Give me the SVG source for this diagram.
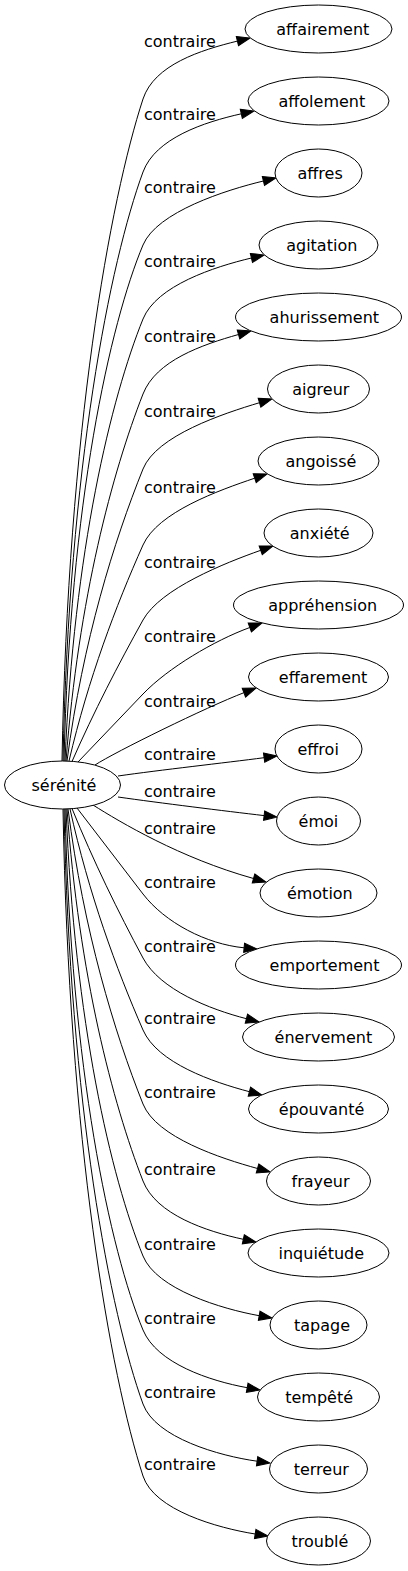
<svg xmlns="http://www.w3.org/2000/svg" width="408" height="1571" viewBox="0 0 408 1571">
<style>
text{font-family:"DejaVu Sans","Liberation Sans",sans-serif;font-size:16px;fill:#000}
.node ellipse{fill:#fff;stroke:#000;stroke-width:1}
.edge path{fill:none;stroke:#000;stroke-width:1;marker-end:url(#ah)}
</style>
<defs>
<marker id="ah" markerUnits="userSpaceOnUse" markerWidth="16" markerHeight="12" refX="1" refY="6" orient="auto" overflow="visible"><path d="M1,1.33 L14,6 L1,10.67 Z" fill="#000" stroke="#000" stroke-width="1"/></marker>
</defs>
<rect width="408" height="1571" fill="#fff"/>
<g id="edges">
<g class="edge" id="e1"><path d="M62,761 C68,430 110,200.3 143,99 C154.2,64.8 200.5,50.1 237.4,41.1"/><text x="144" y="47">contraire</text></g>
<g class="edge" id="e2"><path d="M63,761 C69,466.5 110,262.1 143,172 C155.4,138.2 204.2,122.1 241.3,113.8"/><text x="144" y="120">contraire</text></g>
<g class="edge" id="e3"><path d="M64,761 C70,503 110,323.9 143,245 C156.9,211.8 226.4,189.9 263.4,181"/><text x="144" y="193">contraire</text></g>
<g class="edge" id="e4"><path d="M65,761 C73.9,550.7 111.1,398.1 143,319 C156.5,285.6 214.4,266.8 251.4,258"/><text x="144" y="267">contraire</text></g>
<g class="edge" id="e5"><path d="M66,761 C78.6,597.9 112.4,472.2 143,394 C156.1,360.5 202,344.8 238.5,334.5"/><text x="144" y="342">contraire</text></g>
<g class="edge" id="e6"><path d="M67,761 C83,640.3 114,541.1 143,469 C156.4,435.6 223.1,413.6 259.5,402.7"/><text x="144" y="417">contraire</text></g>
<g class="edge" id="e7"><path d="M69,761 C88.3,678.6 115.9,605.7 143,545 C157.7,512.1 218.7,490.4 254.7,478.2"/><text x="144" y="493">contraire</text></g>
<g class="edge" id="e8"><path d="M72,761.5 C93.8,711.8 118.3,664.5 143,620 C160.5,588.5 224.9,563 260.7,550.3"/><text x="144" y="568">contraire</text></g>
<g class="edge" id="e9"><path d="M78,762 C99.7,739.3 121.3,716.7 143,694 C167.9,668 214.1,640.6 249.8,627.5"/><text x="144" y="642">contraire</text></g>
<g class="edge" id="e10"><path d="M95,765 C115,752 206.6,707 243.9,692.7"/><text x="144" y="707">contraire</text></g>
<g class="edge" id="e11"><path d="M118,776 C160,770 225,762.8 264.1,757.7"/><text x="144" y="760">contraire</text></g>
<g class="edge" id="e12"><path d="M118,797 C160,803 225,811 264.1,815.6"/><text x="144" y="797">contraire</text></g>
<g class="edge" id="e13"><path d="M93,805 C120,822 180,858 253.5,878.5"/><text x="144" y="834">contraire</text></g>
<g class="edge" id="e14"><path d="M77,808 C99,836.7 121,865.3 143,894 C164.9,922.5 206.3,944.2 244.1,947.8"/><text x="144" y="888">contraire</text></g>
<g class="edge" id="e15"><path d="M72,808.5 C93.5,861.4 118.1,911.6 143,958 C160,989.7 209.6,1009.2 246.4,1018.7"/><text x="144" y="952">contraire</text></g>
<g class="edge" id="e16"><path d="M70,809 C88.8,893.9 116.1,968.4 143,1030 C157.4,1063 212.7,1082 249.4,1091.7"/><text x="144" y="1024">contraire</text></g>
<g class="edge" id="e17"><path d="M68,809 C83.8,931.3 114.1,1031.6 143,1104 C156.4,1137.4 220.9,1158.4 257.5,1168.5"/><text x="144" y="1098">contraire</text></g>
<g class="edge" id="e18"><path d="M67,809 C79.1,975.2 112.5,1102.6 143,1181 C156.1,1214.6 206.2,1231.3 243.3,1239.3"/><text x="144" y="1175">contraire</text></g>
<g class="edge" id="e19"><path d="M66,809 C74.7,1022.6 110.9,1176.9 143,1256 C156.5,1289.3 221.8,1309 259.2,1315.7"/><text x="144" y="1250">contraire</text></g>
<g class="edge" id="e20"><path d="M65,809 C71,1069.5 110,1250.3 143,1330 C156.8,1363.3 209.8,1380.9 247.2,1387.7"/><text x="144" y="1324">contraire</text></g>
<g class="edge" id="e21"><path d="M64,809 C70,1106.5 110,1313 143,1404 C155.3,1437.8 219.5,1456 257.1,1461.2"/><text x="144" y="1398">contraire</text></g>
<g class="edge" id="e22"><path d="M63,809 C69,1142.5 110,1374 143,1476 C154.1,1510.2 217.6,1528 255.2,1534"/><text x="144" y="1470">contraire</text></g>
</g>
<g class="node" id="n0"><ellipse cx="62.5" cy="785" rx="58" ry="24"/><text x="31.5" y="790.6">sérénité</text></g>
<g class="node" id="n1"><ellipse cx="318.5" cy="29" rx="73.5" ry="24"/><text x="276.3" y="34.6">affairement</text></g>
<g class="node" id="n2"><ellipse cx="318.5" cy="101" rx="70.5" ry="24"/><text x="278.5" y="106.6">affolement</text></g>
<g class="node" id="n3"><ellipse cx="318.5" cy="173" rx="43.5" ry="24"/><text x="297.5" y="178.6">affres</text></g>
<g class="node" id="n4"><ellipse cx="318.5" cy="245" rx="59.5" ry="24"/><text x="286.2" y="250.6">agitation</text></g>
<g class="node" id="n5"><ellipse cx="318.5" cy="317" rx="83" ry="24"/><text x="269.6" y="322.6">ahurissement</text></g>
<g class="node" id="n6"><ellipse cx="318.5" cy="389" rx="51" ry="24"/><text x="292.2" y="394.6">aigreur</text></g>
<g class="node" id="n7"><ellipse cx="318.5" cy="461" rx="60.5" ry="24"/><text x="285.5" y="466.6">angoissé</text></g>
<g class="node" id="n8"><ellipse cx="318.5" cy="533" rx="54.5" ry="24"/><text x="289.8" y="538.6">anxiété</text></g>
<g class="node" id="n9"><ellipse cx="318.5" cy="605" rx="85" ry="24"/><text x="268.2" y="610.6">appréhension</text></g>
<g class="node" id="n10"><ellipse cx="318.5" cy="677" rx="70" ry="24"/><text x="278.8" y="682.6">effarement</text></g>
<g class="node" id="n11"><ellipse cx="318.5" cy="749" rx="43.5" ry="24"/><text x="297.5" y="754.6">effroi</text></g>
<g class="node" id="n12"><ellipse cx="318.5" cy="821" rx="42" ry="24"/><text x="298.6" y="826.6">émoi</text></g>
<g class="node" id="n13"><ellipse cx="318.5" cy="893" rx="58.5" ry="24"/><text x="286.9" y="898.6">émotion</text></g>
<g class="node" id="n14"><ellipse cx="318.5" cy="965" rx="83" ry="24"/><text x="269.6" y="970.6">emportement</text></g>
<g class="node" id="n15"><ellipse cx="318.5" cy="1037" rx="76" ry="24"/><text x="274.6" y="1042.6">énervement</text></g>
<g class="node" id="n16"><ellipse cx="318.5" cy="1109" rx="70" ry="24"/><text x="278.8" y="1114.6">épouvanté</text></g>
<g class="node" id="n17"><ellipse cx="318.5" cy="1181" rx="52" ry="24"/><text x="291.5" y="1186.6">frayeur</text></g>
<g class="node" id="n18"><ellipse cx="318.5" cy="1253" rx="70.5" ry="24"/><text x="278.5" y="1258.6">inquiétude</text></g>
<g class="node" id="n19"><ellipse cx="318.5" cy="1325" rx="48.5" ry="24"/><text x="294" y="1330.6">tapage</text></g>
<g class="node" id="n20"><ellipse cx="318.5" cy="1397" rx="61" ry="24"/><text x="285.2" y="1402.6">tempêté</text></g>
<g class="node" id="n21"><ellipse cx="318.5" cy="1469" rx="49" ry="24"/><text x="293.7" y="1474.6">terreur</text></g>
<g class="node" id="n22"><ellipse cx="318.5" cy="1541" rx="52" ry="24"/><text x="291.5" y="1546.6">troublé</text></g>
</svg>
